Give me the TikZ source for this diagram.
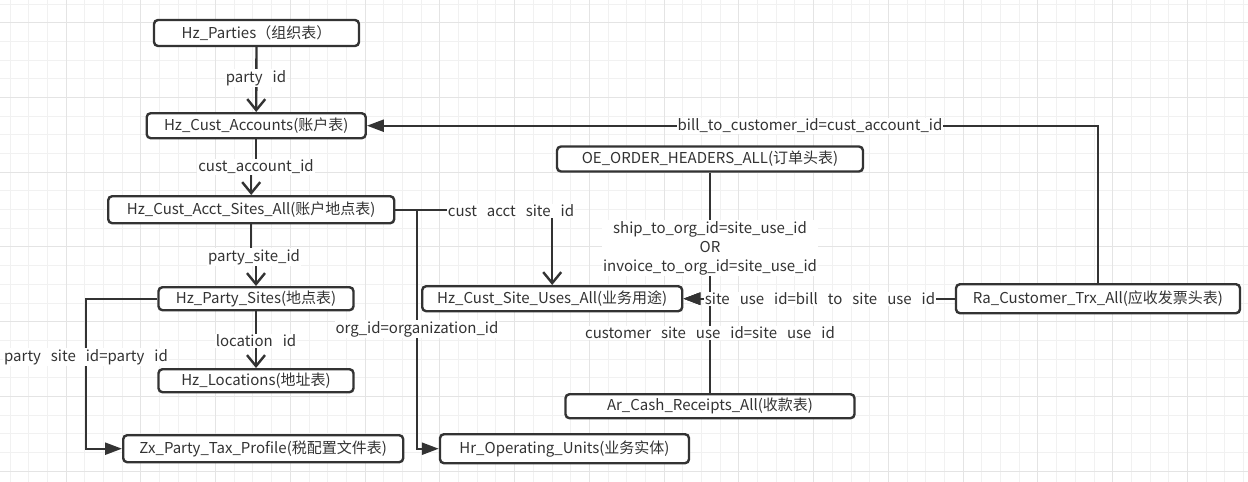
\documentclass[tikz,border=0pt]{standalone}
\usepackage{fontspec}
\setmainfont{Noto Sans CJK SC}
\usetikzlibrary{arrows.meta,calc}
\definecolor{ink}{HTML}{333333}
\definecolor{gridminor}{HTML}{F1F1F1}
\definecolor{gridmajor}{HTML}{E4E4E4}
\newcommand{\lblfont}{\fontsize{15}{19}\selectfont\setlength{\spaceskip}{10pt}}
\tikzset{
  tbl/.style={draw=ink, line width=2.4pt, rounded corners=4pt, fill=white, text=ink,
    font=\fontsize{15}{18}\selectfont, inner sep=0pt, align=center},
  conn/.style={draw=ink, line width=2.4pt},
  openarr/.style={conn, -{Straight Barb[length=11pt,width=18pt,line width=2.4pt]}},
  fillarr/.style={conn, -{Triangle[length=17pt,width=12pt]}},
  lbl/.style={fill=white, text=ink, font=\lblfont, inner sep=1pt, align=center}
}
\begin{document}
\begin{tikzpicture}[x=1pt,y=-1pt]
\useasboundingbox (0,0) rectangle (1248,482);
\fill[white] (0,0) rectangle (1248,482);
% grid
\foreach \i in {0,...,66} {
  \draw[gridminor, line width=1pt] ({10+18.69*\i},0) -- ({10+18.69*\i},482);
}
\foreach \j in {0,...,25} {
  \draw[gridminor, line width=1pt] (0,{4+18.69*\j}) -- (1248,{4+18.69*\j});
}
\foreach \i in {0,...,16} {
  \draw[gridmajor, line width=1pt] ({66.07+74.76*\i},0) -- ({66.07+74.76*\i},482);
}
\foreach \j in {0,...,6} {
  \draw[gridmajor, line width=1pt] (0,{22.69+74.76*\j}) -- (1248,{22.69+74.76*\j});
}

% tables
\node[tbl, minimum width=205pt, minimum height=26pt] (parties) at (256.5,33) {Hz\_Parties（组织表）};
\node[tbl, minimum width=219pt, minimum height=25pt] (accounts) at (256.2,125.7) {Hz\_Cust\_Accounts(账户表)};
\node[tbl, minimum width=286pt, minimum height=27pt] (acctsites) at (251.2,209.7) {Hz\_Cust\_Acct\_Sites\_All(账户地点表)};
\node[tbl, minimum width=195pt, minimum height=23pt] (partysites) at (256,298.7) {Hz\_Party\_Sites(地点表)};
\node[tbl, minimum width=195pt, minimum height=23pt] (locations) at (256,380.7) {Hz\_Locations(地址表)};
\node[tbl, minimum width=280pt, minimum height=27pt] (taxprofile) at (263.2,448.7) {Zx\_Party\_Tax\_Profile(税配置文件表)};
\node[tbl, minimum width=249pt, minimum height=29pt] (opunits) at (564.5,448.7) {Hr\_Operating\_Units(业务实体)};
\node[tbl, minimum width=289pt, minimum height=24pt] (cashrcpt) at (710,406.2) {Ar\_Cash\_Receipts\_All(收款表)};
\node[tbl, minimum width=260pt, minimum height=25pt] (siteuses) at (552.2,298.7) {Hz\_Cust\_Site\_Uses\_All(业务用途)};
\node[tbl, minimum width=306pt, minimum height=25pt] (oe) at (710,159) {OE\_ORDER\_HEADERS\_ALL(订单头表)};
\node[tbl, minimum width=284pt, minimum height=29pt] (ra) at (1098,298.7) {Ra\_Customer\_Trx\_All(应收发票头表)};

% helper coordinates
\coordinate (jog1) at (256.2,167);
\coordinate (jog2) at (251.2,257);
\coordinate (leftbus) at (86,298.7);
\coordinate (branch) at (416.7,209.7);
\coordinate (meet) at (710,298.7);

% connectors
\draw[openarr] (parties.south) -- (accounts.north);
\draw[openarr] (accounts.south) -- (jog1) -| (acctsites.north);
\draw[openarr] (acctsites.south) -- (jog2) -| (partysites.north);
\draw[openarr] (partysites.south) -- (locations.north);
\draw[fillarr] (partysites.west) -- (leftbus) |- (taxprofile.west);
\draw[openarr] (acctsites.east) -| (siteuses.north);
\draw[fillarr] (branch) |- (opunits.west);
\draw[fillarr] (oe.south) -- (meet) -- (siteuses.east);
\draw[fillarr] (cashrcpt.north) -- (meet) -- (siteuses.east);
\draw[fillarr] (ra.west) -- (siteuses.east);
\draw[fillarr] (ra.north) |- (accounts.east);

% labels
\node[lbl] (l1) at (256,78) {party id};
\node[lbl] (l2) at (256,167) {cust\_account\_id};
\node[lbl] (l3) at (254,257) {party\_site\_id};
\node[lbl] (l4) at (256,341) {location id};
\node[lbl] (l5) at (86,357) {party site id=party id};
\node[lbl] (l6) at (511,211) {cust acct site id};
\node[lbl] (l7) at (417,329) {org\_id=organization\_id};
\node[lbl] (l8) at (710,248) {ship\_to\_org\_id=site\_use\_id\\OR\\invoice\_to\_org\_id=site\_use\_id};
\node[lbl] (l9) at (820,299) {site use id=bill to site use id};
\node[lbl] (l10) at (710,333) {customer site use id=site use id};
\node[lbl] (l11) at (810,126) {bill\_to\_customer\_id=cust\_account\_id};
\end{tikzpicture}
\end{document}
